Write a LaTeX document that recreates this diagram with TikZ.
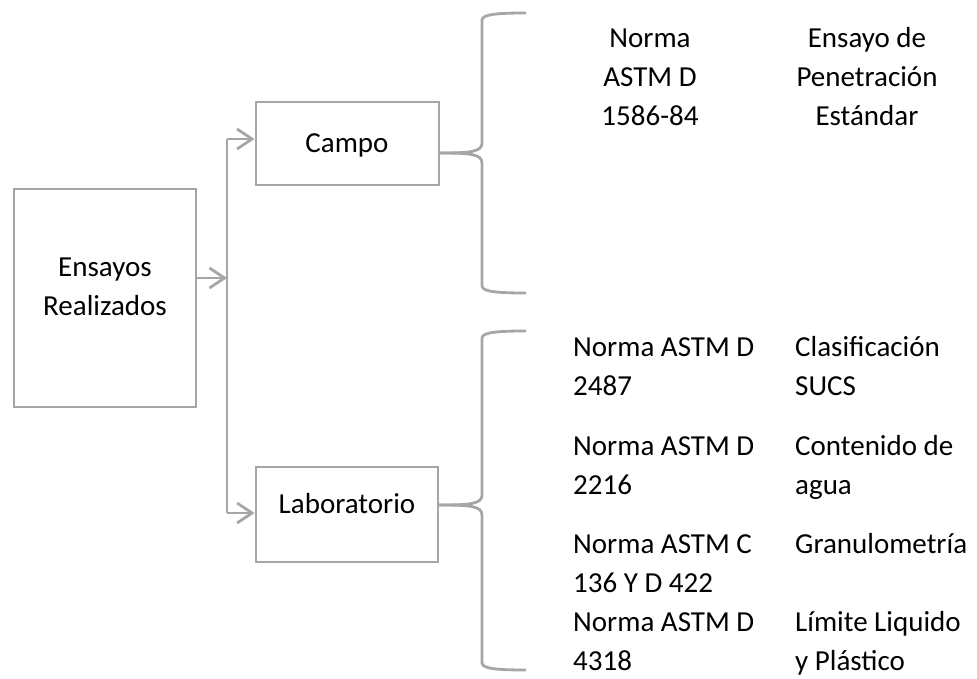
\documentclass[tikz,border=0pt]{standalone}
\usepackage{fontspec}
\setmainfont{Carlito}
\usetikzlibrary{arrows.meta}
\definecolor{lgray}{RGB}{166,166,166}
\begin{document}
\begin{tikzpicture}[x=1pt,y=-1pt,
  box/.style={draw=lgray,line width=2.8pt,inner sep=0pt},
  conn/.style={draw=lgray,line width=2.8pt},
  arr/.style={conn,-{Straight Barb[length=15pt,width=20pt,line width=2.8pt]}},
  txt/.style={font=\fontsize{29}{39}\selectfont,inner sep=0pt},
  ltxt/.style={txt,align=left,anchor=base west},
  ctxt/.style={txt,align=center,anchor=base}]
\useasboundingbox (0,0) rectangle (977,679);
\node[box,minimum width=182pt,minimum height=218pt] (ens) at (105,298) {};
\node[ctxt] (enst) at (105,315) {Ensayos\\Realizados};
\node[box,minimum width=183pt,minimum height=83pt] (campo) at (347.5,143.5) {};
\node[txt,anchor=base] (campot) at (347,153) {Campo};
\node[box,minimum width=182pt,minimum height=95pt] (lab) at (347,514.5) {};
\node[txt,anchor=base] (labt) at (347,513) {Laboratorio};
% connectors
\coordinate (mid) at (227,278);
\coordinate (vtop) at (227,139);
\coordinate (vbot) at (227,513);
\draw[arr] (ens.east |- mid) -- (mid);
\draw[conn] (vtop) -- (vbot);
\draw[arr] (vtop) -- (campo.west |- vtop);
\draw[arr] (vbot) -- (lab.west |- vbot);
% braces
\coordinate (cb) at (439,153);
\coordinate (ct) at (526,13);
\coordinate (cbt) at (526,293);
\draw[conn,line join=round] (cb) .. controls (470,153) and (482,152) .. (482,143) -- (482,20) .. controls (482,14) and (500,13) .. (ct);
\draw[conn,line join=round] (cb) .. controls (470,153) and (482,154) .. (482,163) -- (482,286) .. controls (482,292) and (500,293) .. (cbt);
\coordinate (lb) at (439,505);
\coordinate (lt) at (526,331);
\coordinate (lbt) at (526,670);
\draw[conn,line join=round] (lb) .. controls (470,505) and (482,504) .. (482,495) -- (482,338) .. controls (482,332) and (500,331) .. (lt);
\draw[conn,line join=round] (lb) .. controls (470,505) and (482,506) .. (482,515) -- (482,663) .. controls (482,669) and (500,670) .. (lbt);
% texts
\node[ctxt] (n1) at (650,126) {Norma\\ASTM D\\1586-84};
\node[ctxt] (e1) at (867,126) {Ensayo de\\Penetración\\Estándar};
\node[ltxt] (n2) at (573,395) {Norma ASTM D\\2487};
\node[ltxt] (e2) at (795,395) {Clasificación\\SUCS};
\node[ltxt] (n3) at (573,494) {Norma ASTM D\\2216};
\node[ltxt] (e3) at (795,494) {Contenido de\\agua};
\node[ltxt] (n4) at (573,592) {Norma ASTM C\\136 Y D 422};
\node[ltxt] (e4) at (795,553) {Granulometría};
\node[ltxt] (n5) at (573,670) {Norma ASTM D\\4318};
\node[ltxt] (e5) at (795,670) {Límite Liquido\\y Plástico};
\end{tikzpicture}
\end{document}
